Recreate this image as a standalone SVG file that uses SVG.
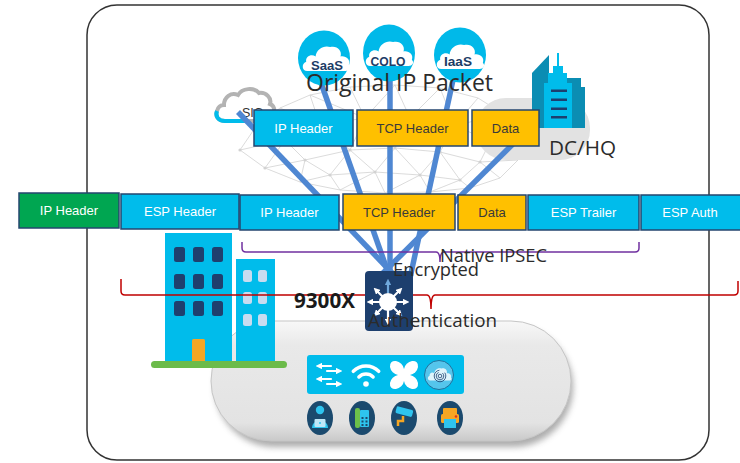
<svg xmlns="http://www.w3.org/2000/svg" width="740" height="463" viewBox="0 0 740 463">
  <defs>
    <style>
      .box{stroke:#24466f;stroke-width:1.5}
      .cy{fill:#00bceb}
      .gd{fill:#ffc000}
      .gr{fill:#00a651}
      .bt{font-family:"Liberation Sans",Arial,sans-serif;font-size:13px;text-anchor:middle}
      .w{fill:#ffffff}
      .d{fill:#3a3a3a}
      .lbl{font-family:"Open Sans","Liberation Sans",sans-serif;fill:#2b2b2b}
      .link{stroke:#4f87d2;stroke-width:5.5;fill:none}
      .mesh{stroke:#d2d2d2;stroke-width:0.8;fill:none}
      .pin{fill:#00b9e9}
      .pint{font-family:"Liberation Sans",Arial,sans-serif;font-weight:bold;font-size:13px;fill:#1d3d66;text-anchor:middle}
      .arw{stroke:#ffffff;stroke-width:2.2;fill:none;stroke-linecap:round}
      .tile{fill:#1b4a6e}
      .ic{fill:#2ec4ef}
    </style>
    <path id="cloud" d="M6,26 C1,26 0,19 5,17 C4,12 10,9 14,12 C15,5 22,1 28,3 C34,1 40,6 38,12 C43,11 48,15 46,20 C49,23 46,26 43,26 Z"/>
    <marker id="ah" viewBox="0 0 6 6" refX="3" refY="3" markerWidth="3" markerHeight="3" orient="auto">
      <path d="M0,0 L6,3 L0,6 Z" fill="#ffffff"/>
    </marker>
    <marker id="ahb" viewBox="0 0 6 6" refX="3" refY="3" markerWidth="3" markerHeight="3" orient="auto">
      <path d="M0,0 L6,3 L0,6 Z" fill="#6fa8dc"/>
    </marker>
    <linearGradient id="pillGrad" x1="0" y1="0" x2="0" y2="1">
      <stop offset="0" stop-color="#f8f8f8"/>
      <stop offset="0.2" stop-color="#e9e9e9"/>
      <stop offset="0.85" stop-color="#e3e3e3"/>
      <stop offset="1" stop-color="#c9c9c9"/>
    </linearGradient>
    <filter id="soft" x="-10%" y="-20%" width="120%" height="150%">
      <feGaussianBlur stdDeviation="3"/>
    </filter>
  </defs>

  <rect width="740" height="463" fill="#ffffff"/>

  <!-- outer frame -->
  <rect id="frame" x="87" y="5" width="622" height="455" rx="30" fill="none" stroke="#333333" stroke-width="1.5"/>

  <!-- network mesh backdrop -->
  <g id="mesh" class="mesh">
    <path d="M240,150 L255,128 L280,108 L310,95 L350,87 L395,85 L440,88 L478,98 L505,115 L520,138 L518,160 L500,178 L470,188 L430,192 L385,193 L340,190 L300,182 L265,168 Z"/>
    <path d="M240,150 L285,140 M255,128 L285,140 M255,128 L320,125 M280,108 L320,125 M310,95 L320,125 M310,95 L365,118 M350,87 L365,118 M395,85 L365,118 M395,85 L410,118 M440,88 L410,118 M440,88 L455,125 M478,98 L455,125 M505,115 L455,125 M505,115 L490,142 M520,138 L490,142 M518,160 L490,142 M518,160 L480,162 M500,178 L480,162 M470,188 L460,180 M430,192 L460,180 M430,192 L420,175 M385,193 L375,172 M385,193 L420,175 M340,190 L330,175 M340,190 L375,172 M300,182 L330,175 M300,182 L305,160 M265,168 L305,160 M265,168 L285,140"/>
    <path d="M285,140 L320,125 L365,118 L410,118 L455,125 L490,142 M285,140 L305,160 M320,125 L350,150 M365,118 L350,150 M365,118 L395,148 M410,118 L395,148 M410,118 L440,152 M455,125 L440,152 M490,142 L480,162 M305,160 L350,150 L395,148 L440,152 L480,162 M305,160 L330,175 M350,150 L330,175 M350,150 L375,172 M395,148 L375,172 M395,148 L420,175 M440,152 L420,175 M440,152 L460,180 M480,162 L460,180 M330,175 L375,172 L420,175 L460,180"/>
    <g fill="#d2d2d2" stroke="none">
      <circle cx="285" cy="140" r="1.6"/><circle cx="320" cy="125" r="1.6"/><circle cx="365" cy="118" r="1.6"/>
      <circle cx="410" cy="118" r="1.6"/><circle cx="455" cy="125" r="1.6"/><circle cx="490" cy="142" r="1.6"/>
      <circle cx="305" cy="160" r="1.6"/><circle cx="350" cy="150" r="1.6"/><circle cx="395" cy="148" r="1.6"/>
      <circle cx="440" cy="152" r="1.6"/><circle cx="480" cy="162" r="1.6"/><circle cx="330" cy="175" r="1.6"/>
      <circle cx="375" cy="172" r="1.6"/><circle cx="420" cy="175" r="1.6"/><circle cx="460" cy="180" r="1.6"/>
      <circle cx="240" cy="150" r="1.6"/><circle cx="255" cy="128" r="1.6"/><circle cx="265" cy="168" r="1.6"/>
    </g>
  </g>

  <!-- DC/HQ site -->
  <g id="dchq">
    <rect x="476" y="98" width="114" height="62" rx="30" fill="#e2e2e2"/>
    <polygon points="532,128 532,73 549,55 549,128" fill="#0b8db3"/>
    <polygon points="567,78 581,78 581,87 585,87 585,128 567,128" fill="#0b8db3"/>
    <polygon points="544,128 544,83 548,83 548,73 553,73 553,66 557,66 557,53 559,53 559,66 563,66 563,73 567,73 567,83 572,83 572,128" fill="#00bceb"/>
    <g fill="#1d3f6e">
      <rect x="551" y="89.5" width="16" height="2.5"/>
      <rect x="551" y="98.5" width="16" height="2.5"/>
      <rect x="551" y="107.5" width="16" height="2.5"/>
      <rect x="551" y="116" width="16" height="2.5"/>
    </g>
    <text class="lbl" x="549" y="155" font-size="20.5" textLength="67" lengthAdjust="spacingAndGlyphs">DC/HQ</text>
  </g>

  <!-- SIG cloud -->
  <g id="sig">
    <path d="M262,121 L225,121 C218,121 215,116 217,111 C218,107 221,105 224,105 C224,97 231,92 238,95 C242,88 254,87 259,93 C266,92 272,98 270,104 C276,106 276,118 268,121 Z" fill="#ffffff" stroke="#b3b3b3" stroke-width="4"/>
    <path d="M245,121 L225,121 C218,121 215,116 217,111" fill="none" stroke="#00bceb" stroke-width="4"/>
    <text x="242" y="117" font-family="Liberation Sans, Arial, sans-serif" font-size="12.5" fill="#333333">SIG</text>
  </g>

  <!-- connectors: every site ties into the 9300X -->
  <g id="connectors">
    <line class="link" x1="238" y1="112" x2="395" y2="276"/>
    <line class="link" x1="320" y1="80" x2="390" y2="278"/>
    <line class="link" x1="390" y1="78" x2="390" y2="278"/>
    <line class="link" x1="453" y1="80" x2="410" y2="278"/>
    <line class="link" x1="537" y1="120" x2="378" y2="278"/>
  </g>

  <!-- cloud pins -->
  <g id="saas">
    <ellipse class="pin" cx="324" cy="58" rx="26" ry="27.5"/>
    <use href="#cloud" transform="translate(301,44) scale(1.04)" fill="#ffffff"/>
    <text class="pint" x="327" y="70" textLength="32" lengthAdjust="spacingAndGlyphs">SaaS</text>
  </g>
  <g id="colo">
    <ellipse class="pin" cx="389" cy="53" rx="26" ry="28.5"/>
    <use href="#cloud" transform="translate(364,39) scale(1.04)" fill="#ffffff"/>
    <text class="pint" x="388" y="66" textLength="35" lengthAdjust="spacingAndGlyphs">COLO</text>
  </g>
  <g id="iaas">
    <ellipse class="pin" cx="460" cy="55" rx="26" ry="27.5"/>
    <use href="#cloud" transform="translate(435,42) scale(1.04)" fill="#ffffff"/>
    <text class="pint" x="458" y="66" textLength="28" lengthAdjust="spacingAndGlyphs">IaaS</text>
  </g>

  <text id="orig-label" class="lbl" x="306" y="91" font-size="23" textLength="187" lengthAdjust="spacingAndGlyphs">Original IP Packet</text>

  <!-- original packet -->
  <g id="orig-ip">
    <rect class="box cy" x="254" y="110" width="99" height="36"/>
    <text class="bt w" x="303.5" y="132.5">IP Header</text>
  </g>
  <g id="orig-tcp">
    <rect class="box gd" x="357" y="110" width="111" height="36"/>
    <text class="bt d" x="412.5" y="132.5">TCP Header</text>
  </g>
  <g id="orig-data">
    <rect class="box gd" x="472" y="110" width="67" height="36"/>
    <text class="bt d" x="505.5" y="132.5">Data</text>
  </g>

  <!-- encapsulated packet -->
  <g id="new-ip">
    <rect class="box gr" x="19" y="193" width="100" height="35"/>
    <text class="bt w" x="69" y="215">IP Header</text>
  </g>
  <g id="esp-header">
    <rect class="box cy" x="121" y="194" width="118" height="35"/>
    <text class="bt w" x="180" y="216">ESP Header</text>
  </g>
  <g id="inner-ip">
    <rect class="box cy" x="240" y="195" width="99" height="35"/>
    <text class="bt w" x="289.5" y="217">IP Header</text>
  </g>
  <g id="inner-tcp">
    <rect class="box gd" x="343" y="194" width="112" height="36"/>
    <text class="bt d" x="399" y="217">TCP Header</text>
  </g>
  <g id="inner-data">
    <rect class="box gd" x="458" y="195" width="68" height="35"/>
    <text class="bt d" x="492" y="217">Data</text>
  </g>
  <g id="esp-trailer">
    <rect class="box cy" x="528" y="195" width="111" height="35"/>
    <text class="bt w" x="583.5" y="217">ESP Trailer</text>
  </g>
  <g id="esp-auth">
    <rect class="box cy" x="641" y="195" width="102" height="35"/>
    <text class="bt w" x="690" y="217">ESP Auth</text>
  </g>

  <!-- brace: native IPSEC span -->
  <g id="ipsec-brace">
    <path d="M242,242 L242,248 Q242,252 246,252 L436,252 Q440,252 440,262 Q440,252 444,252 L635,252 Q639,252 639,248 L639,242" fill="none" stroke="#7030a0" stroke-width="1.5"/>
    <text class="lbl" x="440" y="262" font-size="18" textLength="107" lengthAdjust="spacingAndGlyphs">Native IPSEC</text>
  </g>

  <!-- campus access pill -->
  <g id="campus">
    <rect x="215" y="327" width="358" height="120" rx="60" fill="#8a8a8a" filter="url(#soft)" opacity="0.7"/>
    <rect x="211" y="321" width="360" height="120" rx="60" fill="url(#pillGrad)" stroke="#c6c6c6" stroke-width="1"/>
    <rect x="307" y="355" width="157" height="39" rx="3" fill="#00bceb"/>
    <!-- switch glyph -->
    <g class="arw" stroke-width="2.6">
      <line x1="331" y1="366" x2="319" y2="366" marker-end="url(#ah)"/>
      <line x1="327" y1="371" x2="339" y2="371" marker-end="url(#ah)"/>
      <line x1="331" y1="379" x2="319" y2="379" marker-end="url(#ah)"/>
      <line x1="327" y1="384" x2="339" y2="384" marker-end="url(#ah)"/>
    </g>
    <!-- wireless glyph -->
    <g fill="none" stroke="#ffffff" stroke-width="3.5" stroke-linecap="round">
      <path d="M353.3,371.3 A18,18 0 0 1 378.7,371.3"/>
      <path d="M358.9,376.9 A10,10 0 0 1 373.1,376.9"/>
    </g>
    <circle cx="366" cy="384" r="2.8" fill="#ffffff"/>
    <!-- fabric glyph -->
    <g fill="#ffffff">
      <ellipse cx="397" cy="368" rx="8" ry="6" transform="rotate(45 397 368)"/>
      <ellipse cx="411" cy="368" rx="8" ry="6" transform="rotate(-45 411 368)"/>
      <ellipse cx="397" cy="382" rx="8" ry="6" transform="rotate(-45 397 382)"/>
      <ellipse cx="411" cy="382" rx="8" ry="6" transform="rotate(45 411 382)"/>
      <circle cx="404" cy="375" r="6"/>
    </g>
    <!-- identity glyph -->
    <circle cx="439" cy="375" r="14.5" fill="#55c5ec" stroke="#1c5c86" stroke-width="0.8"/>
    <use href="#cloud" transform="translate(427,367) scale(0.52)" fill="#dff4fc"/>
    <g fill="none" stroke="#1d3f6e" stroke-width="0.8">
      <circle cx="440" cy="376" r="1.8"/>
      <circle cx="440" cy="376" r="3.8" stroke-dasharray="16 4"/>
      <circle cx="440" cy="376" r="5.8" stroke-dasharray="26 6"/>
    </g>
    <!-- endpoints -->
    <ellipse class="tile" cx="320" cy="418" rx="13" ry="17"/>
    <circle class="ic" cx="320" cy="410" r="4.2"/>
    <path class="ic" d="M312,428 C312,418 328,418 328,428 Z"/>
    <rect x="314.5" y="419" width="11" height="8" rx="1" fill="#bfe6f7"/>
    <circle class="ic" cx="320" cy="423" r="1"/>

    <ellipse class="tile" cx="362" cy="418" rx="13" ry="17"/>
    <rect x="355" y="408" width="5" height="20" rx="2" fill="#6cc04a"/>
    <rect class="ic" x="360" y="410" width="9" height="17" rx="1"/>
    <g fill="#1b4a6e">
      <rect x="361.5" y="417" width="2" height="2"/><rect x="365.5" y="417" width="2" height="2"/>
      <rect x="361.5" y="420.5" width="2" height="2"/><rect x="365.5" y="420.5" width="2" height="2"/>
      <rect x="361.5" y="424" width="2" height="2"/><rect x="365.5" y="424" width="2" height="2"/>
    </g>

    <ellipse class="tile" cx="404" cy="418" rx="13" ry="17"/>
    <rect class="ic" x="396" y="408" width="17" height="7" rx="1.5" transform="rotate(15 404 411)"/>
    <path d="M403,416 L403,421 L398,421 L398,426" fill="none" stroke="#f5a623" stroke-width="2.5"/>

    <ellipse class="tile" cx="450" cy="418" rx="13" ry="17"/>
    <rect x="443" y="408" width="14" height="8" rx="1" fill="#f5a623"/>
    <rect x="441" y="414" width="18" height="9" rx="1.5" fill="#f5a623"/>
    <rect class="ic" x="444" y="419" width="12" height="9"/>
    <circle cx="456" cy="416.5" r="1.3" fill="#e0301e"/>
  </g>

  <!-- branch buildings -->
  <g id="branch">
    <rect x="165" y="233" width="67" height="129" fill="#00bceb"/>
    <rect x="236" y="259" width="39" height="103" fill="#00bceb"/>
    <g fill="#1f3f6e">
      <rect x="174" y="247" width="11" height="15" rx="2.5"/><rect x="193" y="247" width="11" height="15" rx="2.5"/><rect x="212" y="247" width="11" height="15" rx="2.5"/>
      <rect x="174" y="274" width="11" height="15" rx="2.5"/><rect x="193" y="274" width="11" height="15" rx="2.5"/><rect x="212" y="274" width="11" height="15" rx="2.5"/>
      <rect x="174" y="301" width="11" height="15" rx="2.5"/><rect x="193" y="301" width="11" height="15" rx="2.5"/><rect x="212" y="301" width="11" height="15" rx="2.5"/>
    </g>
    <g fill="#c8dcf0">
      <rect x="243" y="270" width="9" height="12" rx="2.5"/><rect x="258" y="270" width="9" height="12" rx="2.5"/>
      <rect x="243" y="292" width="9" height="12" rx="2.5"/><rect x="258" y="292" width="9" height="12" rx="2.5"/>
      <rect x="243" y="314" width="9" height="12" rx="2.5"/><rect x="258" y="314" width="9" height="12" rx="2.5"/>
    </g>
    <rect x="192" y="339" width="13" height="23" rx="1.5" fill="#f5a623"/>
    <rect x="151" y="361" width="136" height="7" rx="3.5" fill="#6cbb4a"/>
  </g>

  <!-- brace: encrypted / authenticated span -->
  <path id="auth-brace" d="M121,279 L121,291 Q121,295 125,295 L427,295 Q431,295 431,309 Q431,295 435,295 L734,295 Q738,295 738,291 L738,281" fill="none" stroke="#c00000" stroke-width="1.5"/>

  <text id="model" x="294" y="308" font-family="Open Sans, Liberation Sans, sans-serif" font-weight="bold" font-size="21" fill="#1a1a1a" textLength="61" lengthAdjust="spacingAndGlyphs">9300X</text>

  <!-- 9300X switch -->
  <g id="switch9300x">
    <rect x="365" y="271" width="48" height="60" rx="4" fill="#1d3f6e"/>
    <circle cx="388" cy="302" r="9" fill="#ffffff"/>
    <line x1="388" y1="293" x2="388" y2="282" stroke="#6fa8dc" stroke-width="2.2" marker-end="url(#ahb)"/>
    <g class="arw">
      <line x1="388" y1="311" x2="388" y2="322" marker-end="url(#ah)"/>
      <line x1="379" y1="302" x2="370" y2="302" marker-end="url(#ah)"/>
      <line x1="397" y1="302" x2="406" y2="302" marker-end="url(#ah)"/>
      <line x1="382" y1="296" x2="376" y2="290" marker-end="url(#ah)"/>
      <line x1="394" y1="296" x2="400" y2="290" marker-end="url(#ah)"/>
      <line x1="382" y1="308" x2="376" y2="314" marker-end="url(#ah)"/>
      <line x1="394" y1="308" x2="400" y2="314" marker-end="url(#ah)"/>
    </g>
  </g>

  <text id="enc-label" class="lbl" x="393" y="276" font-size="18" textLength="86" lengthAdjust="spacingAndGlyphs">Encrypted</text>
  <text id="auth-label" class="lbl" x="368" y="327" font-size="18.5" textLength="129" lengthAdjust="spacingAndGlyphs">Authentication</text>
</svg>
